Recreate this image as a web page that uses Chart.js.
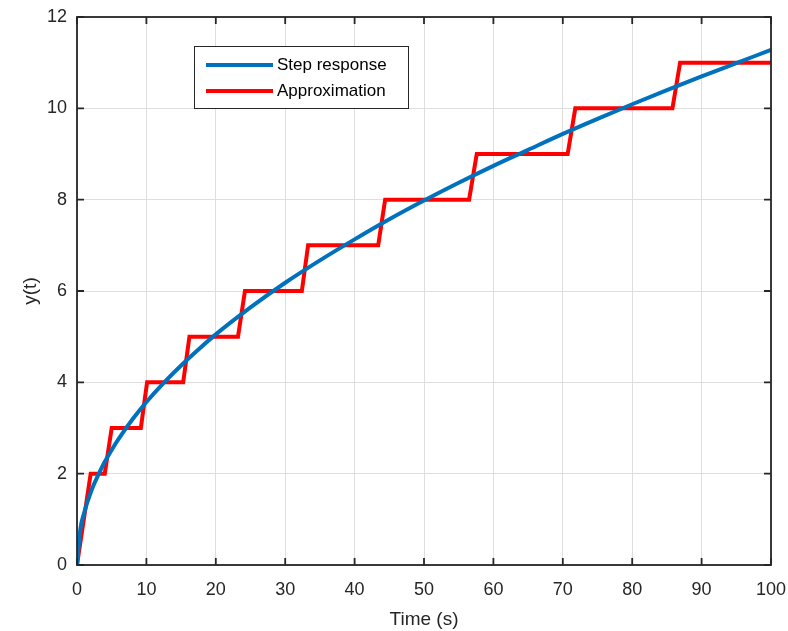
<!DOCTYPE html>
<html>
<head>
<meta charset="utf-8">
<script src="https://cdn.jsdelivr.net/npm/chart.js@4/dist/chart.umd.min.js"></script>
<style>
  html, body { margin: 0; padding: 0; background: #fff; }
  #wrap { width: 788px; height: 631px; }
</style>
</head>
<body>
<div id="wrap"><canvas id="grafico"></canvas></div>
<script>
// step response
const stepT = [0, 0.5, 1, 2, 3, 4, 5, 6, 8, 10, 12.5, 15, 17.5, 20, 25, 30, 35, 40, 45, 50, 55, 60, 65, 70, 75, 80, 85, 90, 95, 100];
const stepY = [0, 0.80, 1.13, 1.60, 1.95, 2.26, 2.52, 2.76, 3.19, 3.57, 3.99, 4.37, 4.72, 5.05, 5.64, 6.18, 6.67, 7.13, 7.57, 7.98, 8.37, 8.74, 9.09, 9.44, 9.77, 10.09, 10.40, 10.70, 10.99, 11.28];

// staircase approximation
const approxT = [0, 1.97, 4.0, 5.0, 9.2, 10.1, 15.3, 16.2, 23.2, 24.2, 32.4, 33.3, 43.4, 44.4, 56.5, 57.6, 70.7, 71.8, 85.8, 86.9, 100];
const approxY = [0, 2, 2, 3, 3, 4, 4, 5, 5, 6, 6, 7, 7, 8, 8, 9, 9, 10, 10, 11, 11];

const xTicks = [0, 10, 20, 30, 40, 50, 60, 70, 80, 90, 100];
const yTicks = [0, 2, 4, 6, 8, 10, 12];

const labels = ["Step response", "Approximation"];
const colors = ["#0072BD", "#FF0000"];

const FONT = "'Liberation Sans', Arial, sans-serif";
const AXIS = "#262626";

// box round the axes with inward ticks, like matlab
const boxPlugin = {
  id: "boxPlugin",
  afterDraw(chart) {
    const { ctx, chartArea: a, scales } = chart;
    ctx.save();
    ctx.strokeStyle = AXIS;
    ctx.lineWidth = 1.8;
    ctx.strokeRect(a.left, a.top, a.right - a.left, a.bottom - a.top);
    ctx.beginPath();
    xTicks.forEach(v => {
      const x = scales.x.getPixelForValue(v);
      ctx.moveTo(x, a.bottom); ctx.lineTo(x, a.bottom - 7);
      ctx.moveTo(x, a.top); ctx.lineTo(x, a.top + 7);
    });
    yTicks.forEach(v => {
      const y = scales.y.getPixelForValue(v);
      ctx.moveTo(a.left, y); ctx.lineTo(a.left + 7, y);
      ctx.moveTo(a.right, y); ctx.lineTo(a.right - 7, y);
    });
    ctx.stroke();

    // legend box
    const lx = 194, ly = 46, lw = 214, lh = 62;
    ctx.fillStyle = "#fff";
    ctx.fillRect(lx, ly, lw, lh);
    ctx.strokeStyle = AXIS;
    ctx.lineWidth = 1;
    ctx.strokeRect(lx + 0.5, ly + 0.5, lw, lh);
    ctx.font = "17px " + FONT;
    ctx.textBaseline = "middle";
    const rows = [65, 91];
    labels.forEach((lab, i) => {
      ctx.strokeStyle = colors[i];
      ctx.lineWidth = 4;
      ctx.beginPath();
      ctx.moveTo(206, rows[i]); ctx.lineTo(273, rows[i]);
      ctx.stroke();
      ctx.fillStyle = "#000";
      ctx.fillText(lab, 277, rows[i]);
    });
    ctx.restore();
  }
};

const ctx = document.getElementById("grafico").getContext("2d");
new Chart(ctx, {
  type: "line",
  data: {
    datasets: [
      {
        label: labels[0],
        data: stepT.map((t, i) => ({ x: t, y: stepY[i] })),
        borderColor: colors[0],
        borderWidth: 4,
        pointRadius: 0,
        cubicInterpolationMode: "monotone",
        fill: false
      },
      {
        label: labels[1],
        data: approxT.map((t, i) => ({ x: t, y: approxY[i] })),
        borderColor: colors[1],
        borderWidth: 4,
        pointRadius: 0,
        tension: 0,
        fill: false
      }
    ]
  },
  options: {
    responsive: true,
    maintainAspectRatio: false,
    animation: false,
    layout: { padding: { top: 17, right: 17, left: 0, bottom: 0 } },
    plugins: { legend: { display: false }, tooltip: { enabled: false } },
    scales: {
      x: {
        type: "linear",
        min: 0,
        max: 100,
        afterBuildTicks: s => { s.ticks = xTicks.map(v => ({ value: v })); },
        afterFit: s => { s.height = 66; s.paddingLeft = 0; s.paddingRight = 0; },
        grid: { color: "#dedede", lineWidth: 1, drawTicks: false },
        border: { display: false },
        ticks: { color: AXIS, font: { family: FONT, size: 18 }, padding: 14, maxRotation: 0 },
        title: { display: true, text: "Time (s)", color: AXIS, font: { family: FONT, size: 19 }, padding: { top: 7, bottom: 0 } }
      },
      y: {
        type: "linear",
        min: 0,
        max: 12,
        afterBuildTicks: s => { s.ticks = yTicks.map(v => ({ value: v })); },
        afterFit: s => { s.width = 77; s.paddingTop = 0; s.paddingBottom = 0; },
        grid: { color: "#dedede", lineWidth: 1, drawTicks: false },
        border: { display: false },
        ticks: { color: AXIS, font: { family: FONT, size: 18 }, padding: 10 },
        title: { display: true, text: "y(t)", color: AXIS, font: { family: FONT, size: 19 }, padding: { top: 19 } }
      }
    }
  },
  plugins: [boxPlugin]
});
</script>
</body>
</html>
